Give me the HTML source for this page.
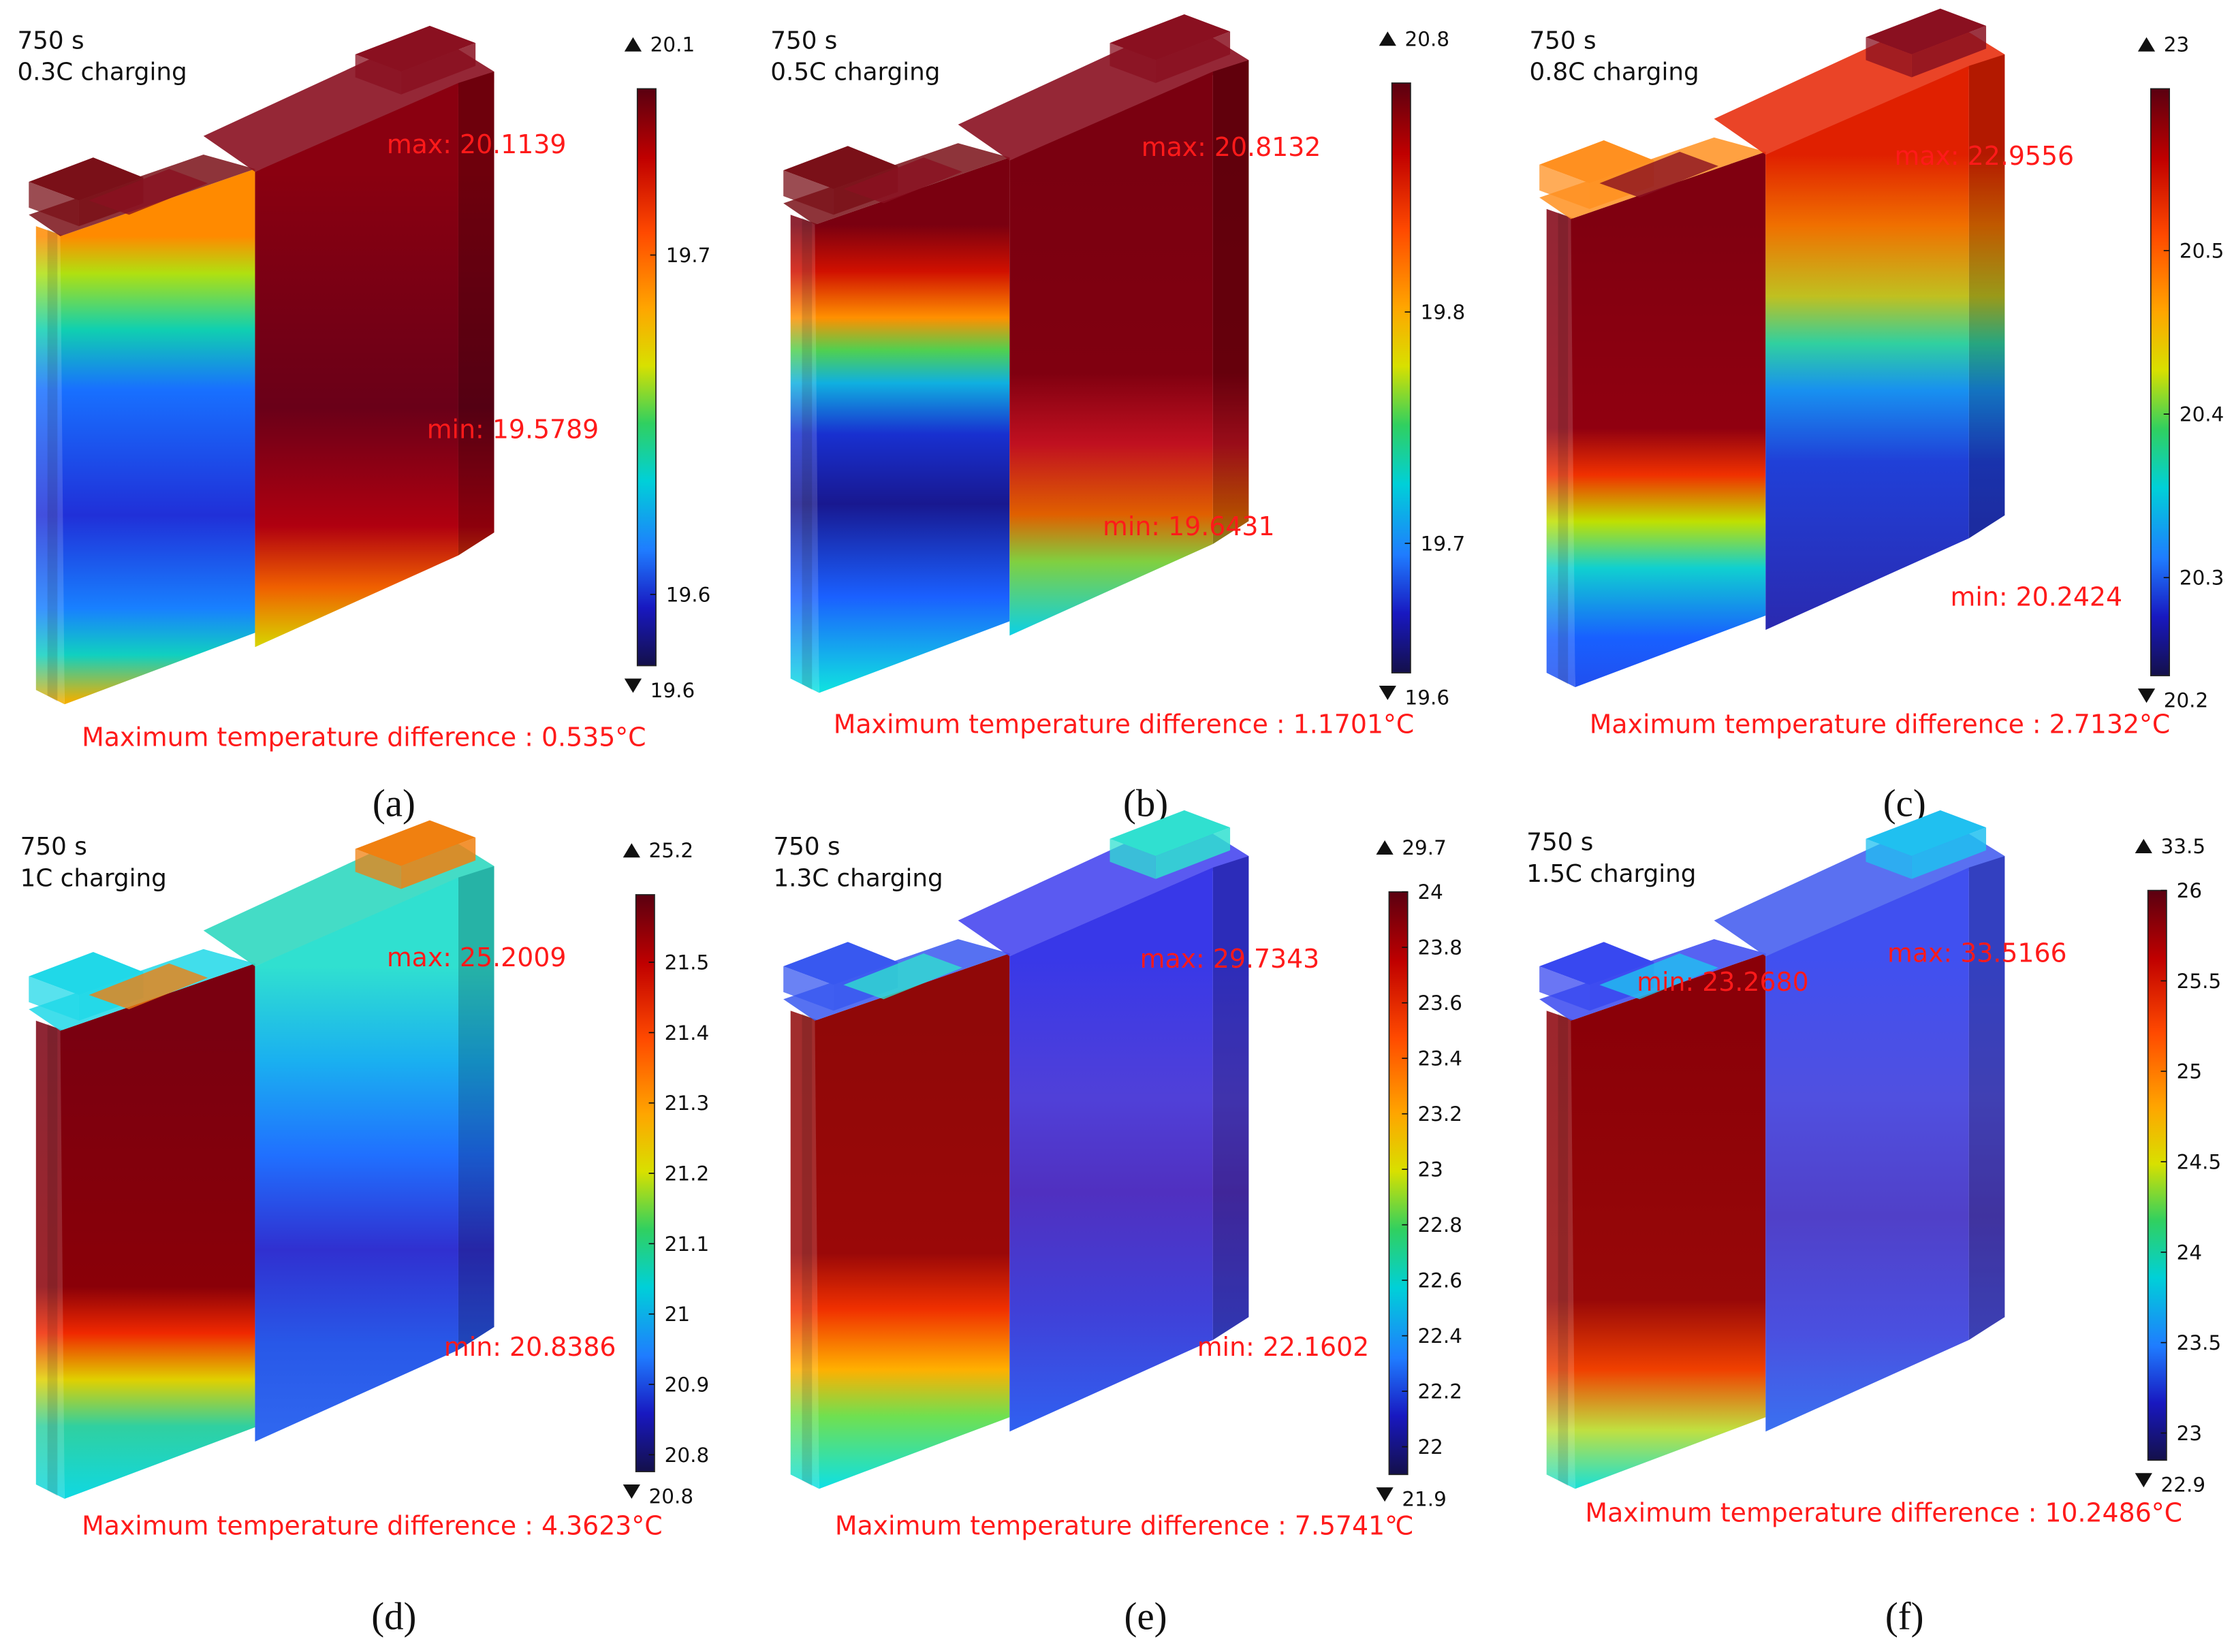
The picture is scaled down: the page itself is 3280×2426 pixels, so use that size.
<!DOCTYPE html>
<html><head><meta charset="utf-8"><style>
html,body{margin:0;padding:0;background:#fff}
svg{display:block}
text{font-family:"DejaVu Sans","Liberation Sans",sans-serif}
text.cap{font-family:"Liberation Serif",serif}
</style></head><body>
<svg id="fig" width="3280" height="2426" viewBox="0 0 1560 1154" xmlns="http://www.w3.org/2000/svg">
<defs>
<linearGradient id="jet" x1="0" y1="0" x2="0" y2="1">
<stop offset="0" stop-color="#5a0010"/><stop offset="0.12" stop-color="#c00000"/><stop offset="0.25" stop-color="#ff4a00"/>
<stop offset="0.38" stop-color="#ffa500"/><stop offset="0.48" stop-color="#d8e000"/><stop offset="0.58" stop-color="#30d060"/>
<stop offset="0.68" stop-color="#00d0d8"/><stop offset="0.8" stop-color="#1f7cff"/><stop offset="0.9" stop-color="#1818c0"/><stop offset="1" stop-color="#14104a"/>
</linearGradient>
</defs>
</svg>
<script>
const NS="http://www.w3.org/2000/svg";
const svg=document.getElementById('fig');
const defs=svg.querySelector('defs');
// panel data
const panelIds=['a','b','c','d','e','f'];
const crates=['0.3C charging','0.5C charging','0.8C charging','1C charging','1.3C charging','1.5C charging'];
const maxLabels=['max: 20.1139','max: 20.8132','max: 22.9556','max: 25.2009','max: 29.7343','max: 33.5166'];
const minLabels=['min: 19.5789','min: 19.6431','min: 20.2424','min: 20.8386','min: 22.1602','min: 23.2680'];
const diffLabels=['Maximum temperature difference : 0.535°C','Maximum temperature difference : 1.1701°C','Maximum temperature difference : 2.7132°C','Maximum temperature difference : 4.3623°C','Maximum temperature difference : 7.5741℃','Maximum temperature difference : 10.2486°C'];
const topLabels=['20.1','20.8','23','25.2','29.7','33.5'];
const botLabels=['19.6','19.6','20.2','20.8','21.9','22.9'];
const cbTicks=[[19.7,19.6],[19.8,19.7],[20.5,20.4,20.3],[21.5,21.4,21.3,21.2,21.1,21,20.9,20.8],[24,23.8,23.6,23.4,23.2,23,22.8,22.6,22.4,22.2,22],[26,25.5,25,24.5,24,23.5,23]];
const cbMin=[19.579,19.644,20.24,20.776,21.9,22.85];
const cbMax=[19.749,19.899,20.599,21.596,24.0,26.0];
// layout (not data)
const offs=[[0,0],[527,-8],[1055,-12],[0,555],[527,548],[1055,548]];
const cb=[[445,62,465],[972,58,470],[1502,62,472],[444,625,1028],[970,623,1030],[1500,622,1020]];
const txt=[[12,0],[538,0],[1068,0],[14,563],[540,563],[1066,560]];
const maxPos=[[270,107],[797,109],[1323,115],[270,675],[796,676],[1318,672]];
const minPos=[[298,306],[770,374],[1362,423],[310,947],[836,947],[1143,692]];
const diffPos=[[57,521],[582,512],[1110,512],[57,1072],[583,1072],[1107,1063]];
const capPos=[[275,570],[800,570],[1330,570],[275,1138],[800,1138],[1330,1138]];
const leftG=[
[[0,'#ff8a00'],[0.08,'#b0e010'],[0.2,'#10d0b0'],[0.33,'#1870ff'],[0.6,'#2030d8'],[0.8,'#1880ff'],[0.9,'#10d0c0'],[1,'#f0b000']],
[[0,'#7a0010'],[0.1,'#d01000'],[0.2,'#ff9000'],[0.27,'#50d050'],[0.34,'#10b0e0'],[0.45,'#1830d0'],[0.6,'#181890'],[0.8,'#1a60ff'],[1,'#10e0e0']],
[[0,'#800010'],[0.45,'#900010'],[0.55,'#f03000'],[0.65,'#c0e000'],[0.75,'#10d0d0'],[0.9,'#1860ff'],[1,'#2050f0']],
[[0,'#7a0010'],[0.55,'#8a0008'],[0.65,'#f02800'],[0.75,'#e0d000'],[0.85,'#30d0a0'],[1,'#10d8e0']],
[[0,'#900808'],[0.5,'#9a0808'],[0.62,'#f03000'],[0.75,'#ffb000'],[0.85,'#70e050'],[1,'#10e0e0']],
[[0,'#8a0008'],[0.6,'#980808'],[0.75,'#f04000'],[0.88,'#c0e040'],[1,'#20e0d0']]];
const rightG=[
[[0,'#8a0010'],[0.5,'#6a0018'],[0.75,'#b00010'],[0.88,'#f06000'],[1,'#d8d000']],
[[0,'#7a0010'],[0.45,'#800010'],[0.6,'#c01020'],[0.75,'#e06000'],[0.85,'#80d040'],[1,'#10d0e0']],
[[0,'#e02000'],[0.15,'#f07000'],[0.3,'#c0c020'],[0.4,'#30d0a0'],[0.5,'#1890f0'],[0.65,'#2040d8'],[1,'#2a2ab0']],
[[0,'#30e0d0'],[0.2,'#1ab0f0'],[0.4,'#2070ff'],[0.6,'#3030d0'],[0.8,'#2858e8'],[1,'#3068f0']],
[[0,'#3838e8'],[0.3,'#5040d8'],[0.5,'#5030c0'],[0.75,'#4040d8'],[1,'#3060f0']],
[[0,'#4050f0'],[0.3,'#5050e0'],[0.55,'#5040c8'],[0.8,'#4a50e0'],[1,'#3a70f0']]];
const tabL=['#7a1018','#7a1018','#ff9020','#20d8e8','#3858f0','#3848f0'];
const tabR=['#8a1020','#8a1020','#8a1020','#f08010','#30e0d0','#20c0f0'];
const topR=['#8a1020','#8a1020','#e83010','#30d8c0','#4848f0','#4860f0'];

function el(tag,attrs,parent,name){const e=document.createElementNS(NS,tag);for(const k in attrs)e.setAttribute(k,attrs[k]);


(parent||svg).appendChild(e);return e;}
function grad(id,stops,y1,y2){const g=document.createElementNS(NS,'linearGradient');g.setAttribute('id',id);g.setAttribute('gradientUnits','userSpaceOnUse');
g.setAttribute('x1',0);g.setAttribute('x2',0);g.setAttribute('y1',y1);g.setAttribute('y2',y2);
stops.forEach(s=>{const st=document.createElementNS(NS,'stop');st.setAttribute('offset',s[0]);st.setAttribute('stop-color',s[1]);g.appendChild(st);});defs.appendChild(g);}
function poly(pts,fill,parent,name,extra){const a=Object.assign({points:pts.map(p=>p.join(',')).join(' '),fill:fill},extra||{});return el('polygon',a,parent,name);}
function text(x,y,s,fs,col,parent,name,extra){const t=el('text',Object.assign({x:x,y:y,'font-size':fs,fill:col},extra||{}),parent,name);t.textContent=s;return t;}

panelIds.forEach((pid,i)=>{
  const P=el('g',{},svg,'panel-'+pid);
  grad('lg'+i,leftG[i],165,490);grad('rg'+i,rightG[i],120,450);
  const G=el('g',{transform:`translate(${offs[i][0]},${offs[i][1]})`},P,'battery-model');
  poly([[25,158],[45,165],[45,492],[25,482]],'url(#lg'+i+')',G,'left-plate',{opacity:0.85});
  poly([[33,160],[40,163],[40,490],[33,486]],'#000',G,'plate-gap',{opacity:0.12});
  poly([[42,165],[178,118],[178,442],[45,492]],'url(#lg'+i+')',G,'left-cell-face');
  poly([[20,150],[142,108],[178,118],[42,165]],tabL[i],G,'left-cell-top',{opacity:0.85});
  poly([[20,127],[65,110],[100,124],[55,140]],tabL[i],G,'left-tab-top');
  poly([[20,127],[55,140],[55,158],[20,145]],tabL[i],G,'left-tab-side',{opacity:0.75});
  poly([[55,140],[100,124],[100,142],[55,158]],tabL[i],G,'left-tab-front',{opacity:0.85});
  poly([[62,140],[118,118],[145,128],[90,150]],tabR[i],G,'left-tab2',{opacity:0.8});
  poly([[142,95],[300,22],[345,50],[178,120]],topR[i],G,'right-cell-top',{opacity:0.9});
  poly([[178,120],[320,58],[320,388],[178,452]],'url(#rg'+i+')',G,'right-cell-face');
  poly([[320,58],[345,50],[345,372],[320,388]],'url(#rg'+i+')',G,'right-cell-side');
  poly([[320,58],[345,50],[345,372],[320,388]],'#000',G,'right-side-shade',{opacity:0.2});
  poly([[248,38],[300,18],[332,30],[280,50]],tabR[i],G,'right-tab-top');
  poly([[248,38],[280,50],[280,66],[248,54]],tabR[i],G,'right-tab-side',{opacity:0.75});
  poly([[280,50],[332,30],[332,46],[280,66]],tabR[i],G,'right-tab-front',{opacity:0.85});
  text(txt[i][0],txt[i][1]+34,'750 s',17,'#111',P,'time-label');
  text(txt[i][0],txt[i][1]+56,crates[i],17,'#111',P,'c-rate-label');
  text(maxPos[i][0],maxPos[i][1],maxLabels[i],18,'#ff1a1a',P,'max-label');
  text(minPos[i][0],minPos[i][1],minLabels[i],18,'#ff1a1a',P,'min-label');
  text(diffPos[i][0],diffPos[i][1],diffLabels[i],18,'#ff1a1a',P,'temperature-difference-label');
  text(capPos[i][0],capPos[i][1],'('+pid+')',27,'#111',P,'panel-caption',{'text-anchor':'middle','class':'cap'});
  const [cx,cy0,cy1]=cb[i];
  el('rect',{x:cx,y:cy0,width:13,height:cy1-cy0,fill:'url(#jet)',stroke:'#222','stroke-width':0.8},P,'colorbar');
  poly([[cx-9,cy0-26],[cx-3,cy0-36],[cx+3,cy0-26]],'#111',P,'colorbar-max-arrow');
  text(cx+9,cy0-26,topLabels[i],14,'#111',P,'colorbar-max-label');
  poly([[cx-9,cy1+9],[cx-3,cy1+19],[cx+3,cy1+9]],'#111',P,'colorbar-min-arrow');
  text(cx+9,cy1+22,botLabels[i],14,'#111',P,'colorbar-min-label');
  const vmin=cbMin[i],vmax=cbMax[i];
  const yOf=v=>cy1-(v-vmin)/(vmax-vmin)*(cy1-cy0);
  cbTicks[i].forEach(v=>{const y=yOf(v);
    el('line',{x1:cx+9,x2:cx+13,y1:y,y2:y,stroke:'#111','stroke-width':0.8},P,'colorbar-tick');
    text(cx+20,y+5,String(v),14,'#111',P,'colorbar-tick-label');});
});
</script>
</body></html>
